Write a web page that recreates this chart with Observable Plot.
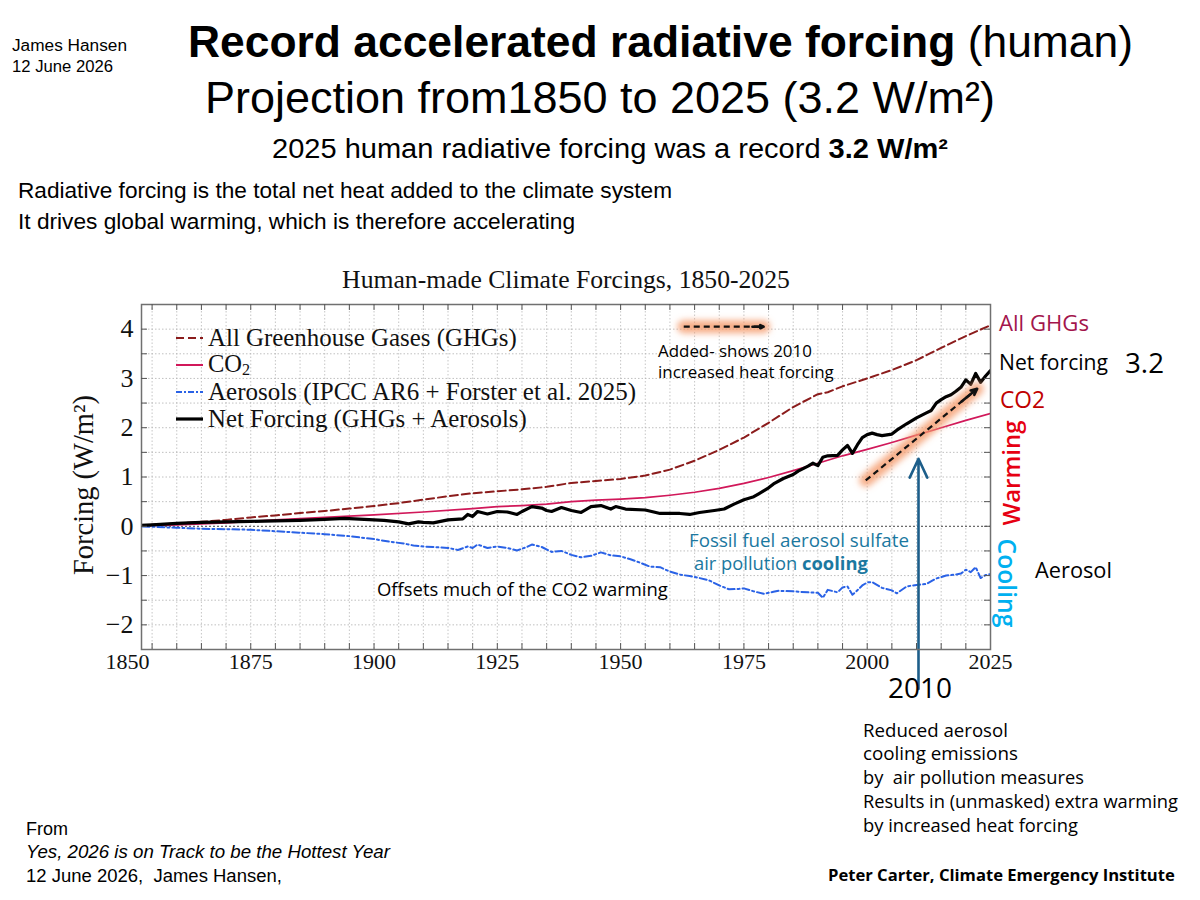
<!DOCTYPE html>
<html><head><meta charset="utf-8">
<script src="https://cdn.jsdelivr.net/npm/d3@7"></script>
<script src="https://cdn.jsdelivr.net/npm/@observablehq/plot@0.6"></script>
<style>
html,body{margin:0;padding:0;background:#fff;}
#wrap{position:relative;width:1200px;height:900px;overflow:hidden;background:#fff;}
#chart{position:absolute;left:0;top:0;}
#over{position:absolute;left:0;top:0;pointer-events:none;}
#over text{white-space:pre;}
</style></head><body>
<div id="wrap"><div id="chart"></div><svg id="over" width="1200" height="900"></svg></div>
<script>
// ---------- data ----------
const ghgYears  = [1850,1855,1860,1865,1870,1875,1880,1885,1890,1895,1900,1905,1910,1915,1920,1925,1930,1935,1940,1945,1950,1955,1960,1965,1970,1975,1980,1985,1990,1992,1995,2000,2005,2010,2015,2020,2025];
const ghgValues = [0,0.03,0.06,0.09,0.13,0.18,0.22,0.27,0.31,0.36,0.41,0.47,0.54,0.61,0.67,0.71,0.75,0.80,0.88,0.92,0.96,1.03,1.15,1.33,1.55,1.80,2.10,2.42,2.68,2.72,2.84,3.00,3.17,3.37,3.62,3.86,4.08];

const co2Years  = [1850,1860,1870,1875,1880,1890,1900,1910,1920,1925,1930,1935,1940,1945,1950,1955,1960,1965,1970,1975,1980,1985,1990,1995,2000,2005,2010,2015,2020,2025];
const co2Values = [0,0.03,0.07,0.10,0.13,0.18,0.23,0.29,0.36,0.40,0.42,0.45,0.50,0.53,0.55,0.58,0.63,0.69,0.77,0.87,0.99,1.13,1.28,1.43,1.56,1.70,1.85,2.00,2.15,2.29];

const aerYears  = [1850,1855,1860,1865,1870,1875,1880,1885,1890,1895,1900,1903,1906,1908,1910,1912,1915,1917,1919,1920,1921,1923,1925,1927,1929,1931,1932,1934,1936,1938,1940,1942,1944,1946,1948,1950,1952,1954,1956,1958,1960,1962,1964,1966,1968,1970,1972,1974,1975,1977,1979,1981,1982,1985,1988,1990,1991,1992,1994,1995,1996,1997,1998,1999,2000,2001,2003,2005,2006,2008,2010,2012,2014,2016,2018,2019,2020,2021,2022,2023,2024,2025];
const aerValues = [0,-0.01,-0.03,-0.05,-0.06,-0.07,-0.10,-0.13,-0.16,-0.20,-0.26,-0.31,-0.35,-0.39,-0.41,-0.42,-0.44,-0.48,-0.41,-0.44,-0.37,-0.44,-0.41,-0.44,-0.49,-0.42,-0.37,-0.42,-0.52,-0.50,-0.58,-0.63,-0.60,-0.53,-0.59,-0.61,-0.67,-0.74,-0.82,-0.83,-0.92,-0.98,-1.01,-1.05,-1.10,-1.20,-1.28,-1.27,-1.26,-1.32,-1.37,-1.33,-1.31,-1.32,-1.34,-1.35,-1.45,-1.29,-1.34,-1.24,-1.22,-1.39,-1.30,-1.20,-1.14,-1.13,-1.25,-1.30,-1.36,-1.22,-1.19,-1.17,-1.06,-1.00,-0.98,-0.96,-0.88,-0.93,-0.83,-1.05,-0.99,-0.97];

const netYears  = [1850,1855,1860,1865,1870,1875,1880,1885,1890,1894,1898,1902,1905,1907,1909,1910,1912,1915,1918,1919,1920,1921,1923,1925,1927,1929,1930,1932,1934,1935,1936,1938,1940,1942,1944,1946,1948,1949,1951,1955,1958,1962,1964,1966,1969,1971,1973,1975,1977,1978,1980,1981,1983,1985,1986,1988,1989,1990,1991,1992,1994,1995,1996,1997,1998,1999,2000,2001,2002,2003,2005,2006,2008,2010,2011,2012,2013,2014,2015,2016,2017,2018,2019,2020,2021,2022,2023,2024,2025];
const netValues = [0,0.03,0.06,0.08,0.09,0.10,0.11,0.12,0.14,0.16,0.14,0.12,0.09,0.05,0.09,0.08,0.07,0.13,0.15,0.24,0.20,0.30,0.25,0.30,0.29,0.24,0.30,0.40,0.37,0.32,0.30,0.38,0.32,0.28,0.40,0.42,0.35,0.40,0.35,0.33,0.26,0.26,0.24,0.28,0.32,0.35,0.45,0.54,0.60,0.66,0.78,0.86,0.97,1.05,1.12,1.22,1.28,1.23,1.40,1.43,1.44,1.55,1.64,1.48,1.65,1.80,1.86,1.89,1.86,1.84,1.87,1.95,2.08,2.20,2.25,2.30,2.35,2.50,2.57,2.63,2.67,2.74,2.82,2.97,2.88,3.10,2.92,3.05,3.16];

const seriesNames = ["All Greenhouse Gases (GHGs)", "CO\u2082", "Aerosols (IPCC AR6 + Forster et al. 2025)", "Net Forcing (GHGs + Aerosols)"];

// tick labels
const xTickLabels = [1850, 1875, 1900, 1925, 1950, 1975, 2000, 2025];
const xMinorTicks = [1855,1860,1865,1870,1875,1880,1885,1890,1895,1900,1905,1910,1915,1920,1925,1930,1935,1940,1945,1950,1955,1960,1965,1970,1975,1980,1985,1990,1995,2000,2005,2010,2015,2020];
const yTickLabels = [-2, -1, 0, 1, 2, 3, 4];
const yMinorTicks = [-2, -1.5, -1, -0.5, 0, 0.5, 1, 1.5, 2, 2.5, 3, 3.5, 4];

// annotation arrows (data coordinates)
const arrowX1 = [1962.8, 1999.7], arrowY1 = [4.05, 0.93];
const arrowX2 = [1979.0, 2022.3], arrowY2 = [4.05, 2.79];
const markerYear = 2010.4, markerFrom = -3.3, markerTo = 1.37;

// ---------- styles ----------
const SANS = "'Open Sans','Noto Sans',sans-serif";
const ARIAL = "'Liberation Sans',Arial,sans-serif";
const NARROW = "'Liberation Sans Narrow','Liberation Sans',Arial,sans-serif";
const SERIF = "'Liberation Serif','Times New Roman',serif";
const C_GHG = "#8b1c1c", C_CO2 = "#d1185a", C_AER = "#2a62e6", C_NET = "#000000";
const GLOW = "#f59a6a";

const rows = (ys, vs) => ys.map((y, i) => ({year: y, value: vs[i]}));
const arrows = arrowX1.map((x1, i) => ({x1, y1: arrowY1[i], x2: arrowX2[i], y2: arrowY2[i]}));
const heads = arrows.map(a => ({x1: a.x1 + (a.x2 - a.x1) * 0.86, y1: a.y1 + (a.y2 - a.y1) * 0.86, x2: a.x2, y2: a.y2}));

const plot = Plot.plot({
  width: 1200, height: 900,
  marginLeft: 141, marginRight: 210, marginTop: 304, marginBottom: 251,
  x: {domain: [1852.85, 2025], label: null},
  y: {domain: [-2.5, 4.5], label: null},
  style: {fontFamily: SERIF, fontSize: "22px", color: "#111", background: "transparent", overflow: "visible"},
  marks: [
    Plot.gridX(xMinorTicks, {stroke: "#b8b8b8", strokeOpacity: 1, strokeWidth: 0.8, strokeDasharray: "1.5,2"}),
    Plot.gridY(yMinorTicks.filter(d => d !== 0), {stroke: "#b0b0b0", strokeOpacity: 1, strokeWidth: 0.8, strokeDasharray: "1.5,2"}),
    Plot.ruleY([0], {stroke: "#444", strokeWidth: 1, strokeDasharray: "2,2"}),
    Plot.line(rows(co2Years, co2Values), {x: "year", y: "value", stroke: C_CO2, strokeWidth: 1.7, clip: true}),
    Plot.line(rows(ghgYears, ghgValues), {x: "year", y: "value", stroke: C_GHG, strokeWidth: 2, strokeDasharray: "8,4", clip: true}),
    Plot.line(rows(aerYears, aerValues), {x: "year", y: "value", stroke: C_AER, strokeWidth: 2, strokeDasharray: "7,3,2,3", clip: true}),
    Plot.line(rows(netYears, netValues), {x: "year", y: "value", stroke: C_NET, strokeWidth: 3.2, strokeLinejoin: "round", clip: true}),
    // glowing dashed arrows
    Plot.link(arrows, {x1: "x1", y1: "y1", x2: "x2", y2: "y2", stroke: GLOW, strokeWidth: 13, strokeOpacity: 0.8, strokeLinecap: "round"}),
    Plot.link(arrows, {x1: "x1", y1: "y1", x2: "x2", y2: "y2", stroke: "#111", strokeWidth: 2.2, strokeDasharray: "6,4"}),
    Plot.arrow(heads, {x1: "x1", y1: "y1", x2: "x2", y2: "y2", stroke: "#111", strokeWidth: 2.6, headLength: 10, headAngle: 50}),
    // 2010 marker arrow
    Plot.arrow([{x: markerYear, a: markerFrom, b: markerTo}], {x1: "x", x2: "x", y1: "a", y2: "b", stroke: "#1d5e8a", strokeWidth: 2.6, headLength: 12, headAngle: 50}),
    Plot.frame({stroke: "#707070", strokeWidth: 1.5}),
    // inward ticks
    Plot.ruleX(xMinorTicks, {stroke: "#555", strokeWidth: 1, insetTop: 339}),
    Plot.ruleX(xMinorTicks, {stroke: "#555", strokeWidth: 1, insetBottom: 339}),
    Plot.ruleY(yMinorTicks, {stroke: "#555", strokeWidth: 1, insetRight: 843}),
    Plot.ruleY(yMinorTicks, {stroke: "#555", strokeWidth: 1, insetLeft: 843}),
    Plot.axisX(xTickLabels, {anchor: "bottom", tickSize: 0, tickPadding: 4, fontSize: 22, fontFamily: SERIF, fill: "#111", label: null, tickFormat: d => String(d)}),
    Plot.axisY(yTickLabels, {anchor: "left", tickSize: 0, tickPadding: 8, fontSize: 26, fontFamily: SERIF, fill: "#111", label: null, tickFormat: d => d < 0 ? "\u2212" + Math.abs(d) : String(d)})
  ]
});
document.getElementById("chart").appendChild(plot);

// glow filter
const psvg = d3.select(plot);
const defs = psvg.insert("defs", ":first-child");
const filt = defs.append("filter").attr("id", "glow").attr("x", "-50%").attr("y", "-50%").attr("width", "200%").attr("height", "200%");
filt.append("feGaussianBlur").attr("stdDeviation", 3);
psvg.selectAll("g").filter(function() { return this.getAttribute("stroke") === GLOW; }).attr("filter", "url(#glow)");

// ---------- overlay texts ----------
const over = d3.select("#over");
function addText(s) {
  const t = over.append("text")
    .attr("x", s.x).attr("y", s.y)
    .attr("font-family", s.family || SANS)
    .attr("font-size", s.size)
    .attr("fill", s.fill || "#000")
    .attr("text-anchor", s.anchor || "start")
    .attr("font-weight", s.weight || 400)
    .attr("font-style", s.italic ? "italic" : "normal");
  if (s.rotate) t.attr("transform", `rotate(${s.rotate},${s.x},${s.y})`);
  for (const p of s.parts) {
    const sp = t.append("tspan").text(p.t);
    if (p.bold) sp.attr("font-weight", 700);
    if (p.sub) sp.attr("dy", "0.18em").attr("font-size", "0.66em");
  }
  if (s.width) {
    const m = t.node().getComputedTextLength();
    if (s.compress) {
      t.attr("textLength", s.width).attr("lengthAdjust", "spacingAndGlyphs");
    } else if (m > 0) {
      t.attr("font-size", s.size * s.width / m);
    }
  }
  return t;
}

const texts = [
  {x: 12, y: 51, parts: [{t: "James Hansen"}], size: 16, family: NARROW, compress: true, width: 115},
  {x: 12, y: 72, parts: [{t: "12 June 2026"}], size: 16, family: NARROW, compress: true, width: 101},
  {x: 188, y: 57, parts: [{t: "Record accelerated radiative forcing", bold: true}, {t: " (human)"}], size: 44, family: NARROW, compress: true, width: 945},
  {x: 205, y: 113, parts: [{t: "Projection from1850 to 2025 (3.2 W/m\u00b2)"}], size: 45, family: NARROW, compress: true, width: 790},
  {x: 272, y: 158, parts: [{t: "2025 human radiative forcing was a record "}, {t: "3.2 W/m\u00b2", bold: true}], size: 27, family: NARROW, compress: true, width: 676},
  {x: 18, y: 198, parts: [{t: "Radiative forcing is the total net heat added to the climate system"}], size: 22.5, family: NARROW, compress: true, width: 654},
  {x: 18, y: 229, parts: [{t: "It drives global warming, which is therefore accelerating"}], size: 22.5, family: NARROW, compress: true, width: 557},
  {x: 566, y: 288, anchor: "middle", parts: [{t: "Human-made Climate Forcings, 1850-2025"}], size: 25, family: SERIF, fill: "#111", width: 448},
  {x: 93, y: 485, anchor: "middle", rotate: -90, parts: [{t: "Forcing (W/m\u00b2)"}], size: 28, family: SERIF, fill: "#111", width: 180},
  // legend
  {x: 208, y: 346, parts: [{t: seriesNames[0]}], size: 25, family: SERIF, fill: "#111", width: 309},
  {x: 208, y: 372, parts: [{t: "CO"}, {t: "2", sub: true}], size: 24.5, family: SERIF, fill: "#111"},
  {x: 208, y: 400, parts: [{t: seriesNames[2]}], size: 25, family: SERIF, fill: "#111", width: 428},
  {x: 208, y: 427, parts: [{t: seriesNames[3]}], size: 25, family: SERIF, fill: "#111", width: 319},
  // right labels
  {x: 999, y: 331, parts: [{t: "All GHGs"}], size: 21, fill: "#a3154c", width: 90},
  {x: 999, y: 370, parts: [{t: "Net forcing"}], size: 21, width: 109},
  {x: 1125, y: 373, parts: [{t: "3.2"}], size: 26, width: 39},
  {x: 1000, y: 408, parts: [{t: "CO2"}], size: 21, fill: "#c00000", width: 45},
  {x: 1020, y: 473, anchor: "middle", rotate: -90, parts: [{t: "Warming"}], size: 24, weight: 600, fill: "#e60012", width: 105},
  {x: 998, y: 583, anchor: "middle", rotate: 90, parts: [{t: "Cooling"}], size: 24, weight: 600, fill: "#00b0f0", width: 89},
  {x: 1035, y: 578, parts: [{t: "Aerosol"}], size: 21, width: 77},
  // in-plot annotations
  {x: 658, y: 357, parts: [{t: "Added- shows 2010"}], size: 16.5, width: 154},
  {x: 658, y: 378, parts: [{t: "increased heat forcing"}], size: 16.5, width: 176},
  {x: 689, y: 547, parts: [{t: "Fossil fuel aerosol sulfate"}], size: 18, fill: "#1b78a0", width: 220},
  {x: 694, y: 570, parts: [{t: "air pollution "}, {t: "cooling", bold: true}], size: 18, fill: "#1b78a0", width: 174},
  {x: 377, y: 596, parts: [{t: "Offsets much of the CO2 warming"}], size: 16.5, width: 291},
  {x: 920, y: 698, anchor: "middle", parts: [{t: "2010"}], size: 28, weight: 500, width: 64},
  // bottom right
  {x: 863, y: 737, parts: [{t: "Reduced aerosol"}], size: 17.5, width: 145},
  {x: 863, y: 760, parts: [{t: "cooling emissions"}], size: 17.5, width: 155},
  {x: 863, y: 784, parts: [{t: "by  air pollution measures"}], size: 17.5, width: 221},
  {x: 863, y: 808, parts: [{t: "Results in (unmasked) extra warming"}], size: 17.5, width: 315},
  {x: 863, y: 832, parts: [{t: "by increased heat forcing"}], size: 17.5, width: 215},
  {x: 828, y: 881, parts: [{t: "Peter Carter, Climate Emergency Institute"}], size: 16, weight: 700, width: 347},
  // bottom left
  {x: 26, y: 835, parts: [{t: "From"}], size: 18, family: ARIAL, width: 42},
  {x: 26, y: 858, parts: [{t: "Yes, 2026 is on Track to be the Hottest Year"}], size: 18, family: ARIAL, italic: true, width: 364},
  {x: 26, y: 882, parts: [{t: "12 June 2026,  James Hansen,"}], size: 18, family: ARIAL, width: 256}
];
texts.forEach(addText);

// legend swatches
const sw = [
  {y: 338, stroke: C_GHG, w: 2, dash: "8,4"},
  {y: 365, stroke: C_CO2, w: 2, dash: null},
  {y: 392, stroke: C_AER, w: 2, dash: "6,2,2,2"},
  {y: 419, stroke: C_NET, w: 3.2, dash: null}
];
sw.forEach(s => {
  const l = over.append("line").attr("x1", 176).attr("x2", 203).attr("y1", s.y).attr("y2", s.y)
    .attr("stroke", s.stroke).attr("stroke-width", s.w);
  if (s.dash) l.attr("stroke-dasharray", s.dash);
});
</script>
</body></html>
